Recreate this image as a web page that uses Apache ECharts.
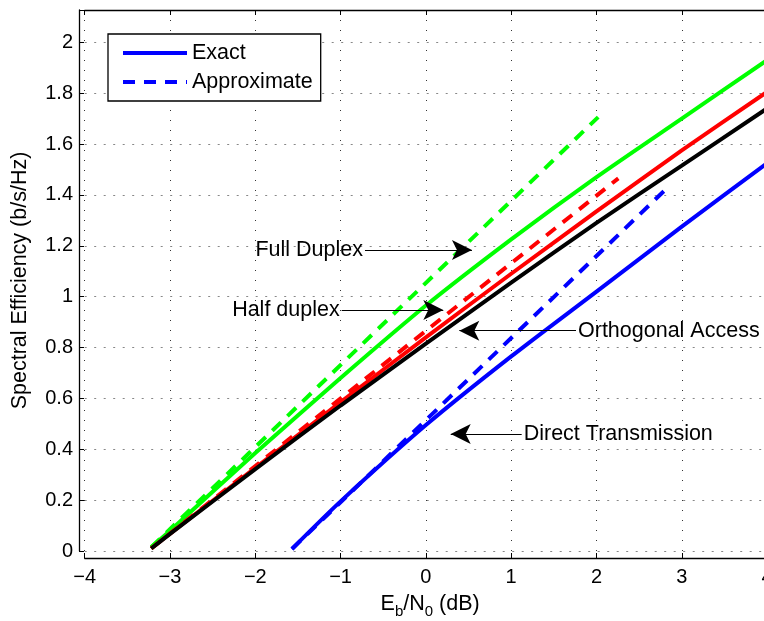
<!DOCTYPE html>
<html><head><meta charset="utf-8">
<script src="https://cdn.jsdelivr.net/npm/echarts@6/dist/echarts.min.js"></script>
<style>html,body{margin:0;padding:0;background:#fff}#c{width:764px;height:621px}</style>
</head><body><div id="c"></div>
<script>
// ---- data ----
const xExact = [-3.22, -3, -2, -1, 0, 1, 2, 3, 4];
const fullDuplexExact = [0.015, 0.08, 0.385, 0.68, 0.965, 1.225, 1.47, 1.70, 1.93];
const halfDuplexExact = [0.01, 0.068, 0.327, 0.585, 0.84, 1.09, 1.335, 1.575, 1.805];
const orthogonalExact = [0.01, 0.067, 0.322, 0.572, 0.815, 1.055, 1.29, 1.515, 1.74];

const xFullApprox = [-3.22, 2.02];
const fullDuplexApprox = [0.015, 1.706];
const xHalfApprox = [-3.22, 2.256];
const halfDuplexApprox = [0.01, 1.465];

const xDirect = [-1.57, -1, 0, 1, 2, 3, 4];
const directExact = [0.008, 0.195, 0.495, 0.765, 1.02, 1.275, 1.525];
const xDirectApprox = [-1.57, 2.84];
const directApprox = [0.008, 1.431];

const legendNames = ['Exact', 'Approximate'];
const xTickValues = [-4, -3, -2, -1, 0, 1, 2, 3, 4];
const yTickValues = [0, 0.2, 0.4, 0.6, 0.8, 1, 1.2, 1.4, 1.6, 1.8, 2];

// annotations: [text, xStart, xTip, y]
const annotations = [
  ['Full Duplex', -0.714, 0.54, 1.183],
  ['Half duplex', -0.987, 0.204, 0.9475],
  ['Orthogonal Access', 1.76, 0.392, 0.866],
  ['Direct Transmission', 1.123, 0.291, 0.46]
];

const FONT = '"Liberation Sans", Arial, Helvetica, sans-serif';
const BIG = 21.5;
const pair = (xs, ys) => xs.map((x, i) => [x, ys[i]]);
const isTick = (v, arr) => arr.some(t => Math.abs(t - v) < 1e-6);
const fmtNum = v => {
  const r = +v.toFixed(1);
  return r < 0 ? '\u2212' + Math.abs(r) : String(r);
};

const DASH = [12, 9];
function lineSeries(name, data, color, dashed, extra) {
  return Object.assign({
    type: 'line', name: name, data: data, symbol: 'none', silent: true,
    clip: true, smooth: dashed ? false : 0.25,
    lineStyle: { color: color, width: 4, type: dashed ? DASH : 'solid', cap: 'butt' },
    itemStyle: { color: color }
  }, extra || {});
}

const markLineData = annotations.map(a => [
  { coord: [a[1], a[3]], name: a[0] },
  { coord: [a[2], a[3]] }
]);

const chart = echarts.init(document.getElementById('c'), null, { renderer: 'canvas' });
chart.setOption({
  animation: false,
  backgroundColor: '#fff',
  textStyle: { fontFamily: FONT },
  grid: { left: 84.7, top: 10, bottom: 70, right: -11.6, containLabel: false, outerBoundsMode: 'none' },
  legend: {
    data: legendNames,
    orient: 'vertical',
    left: 108, top: 34,
    padding: [8, 8, 8, 13],
    itemGap: 7,
    itemWidth: 64, itemHeight: 14,
    itemTextGap: 8,
    borderColor: '#000', borderWidth: 1.3,
    backgroundColor: '#fff',
    itemStyle: { opacity: 0 },
    lineStyle: { width: 4 },
    textStyle: { fontSize: BIG, color: '#000', fontFamily: FONT },
    selectedMode: false
  },
  xAxis: [{
    type: 'value', min: -4, max: 4.1, interval: 1, offset: 7,
    name: '{m|E}{s|b}{m|/N}{s|0}{m| (dB)}',
    nameLocation: 'middle', nameGap: 31,
    nameTextStyle: {
      rich: {
        m: { fontSize: BIG, color: '#000', fontFamily: FONT },
        s: { fontSize: 15, color: '#000', fontFamily: FONT, padding: [15, 0, 0, 0] }
      }
    },
    axisLine: { show: true, onZero: false, lineStyle: { color: '#000', width: 1.3 } },
    axisTick: { show: true, inside: true, length: 5, lineStyle: { color: '#000', width: 1 } },
    axisLabel: {
      fontSize: 20, color: '#000', fontFamily: FONT, margin: 9, hideOverlap: false,
      showMinLabel: true, showMaxLabel: true,
      formatter: v => isTick(v, xTickValues) ? fmtNum(v) : ''
    },
    splitLine: { show: true, lineStyle: { color: '#333', width: 1, type: [1, 9] } }
  }, {
    type: 'value', position: 'top', min: -4, max: 4.1, interval: 1,
    axisLine: { show: true, onZero: false, lineStyle: { color: '#000', width: 1.3 } },
    axisTick: { show: true, inside: true, length: 5, lineStyle: { color: '#000', width: 1 } },
    axisLabel: { show: false },
    splitLine: { show: false }
  }],
  yAxis: {
    type: 'value', min: 0, max: 2.127, interval: 0.2, offset: 5.7,
    name: 'Spectral Efficiency (b/s/Hz)',
    nameLocation: 'middle', nameGap: 48,
    nameTextStyle: { fontSize: BIG, color: '#000', fontFamily: FONT },
    axisLine: { show: true, onZero: false, lineStyle: { color: '#000', width: 1.3 } },
    axisTick: { show: true, inside: true, length: 5, lineStyle: { color: '#000', width: 1 } },
    axisLabel: {
      fontSize: 20, color: '#000', fontFamily: FONT, margin: 6,
      formatter: v => isTick(v, yTickValues) ? fmtNum(v) : ''
    },
    splitLine: { show: true, lineStyle: { color: '#888', width: 1, type: [2, 7.5] } }
  },
  series: [
    lineSeries('Full duplex exact', pair(xExact, fullDuplexExact), '#00ff00', false),
    lineSeries('Full duplex approx', pair(xFullApprox, fullDuplexApprox), '#00ff00', true),
    lineSeries('Half duplex exact', pair(xExact, halfDuplexExact), '#ff0000', false),
    lineSeries('Half duplex approx', pair(xHalfApprox, halfDuplexApprox), '#ff0000', true),
    lineSeries('Orthogonal exact', pair(xExact, orthogonalExact), '#000000', false),
    lineSeries('Exact', pair(xDirect, directExact), '#0000ff', false),
    lineSeries('Approximate', pair(xDirectApprox, directApprox), '#0000ff', true, {
      markLine: {
        silent: true, animation: false,
        symbol: ['none', 'arrow'], symbolSize: [15, 20],
        lineStyle: { color: '#000', width: 1, type: 'solid' },
        label: {
          show: true, position: 'start', distance: 2,
          formatter: p => p.name,
          fontSize: BIG, color: '#000', fontFamily: FONT
        },
        emphasis: { disabled: true },
        data: markLineData
      }
    })
  ]
});
</script>
</body></html>
